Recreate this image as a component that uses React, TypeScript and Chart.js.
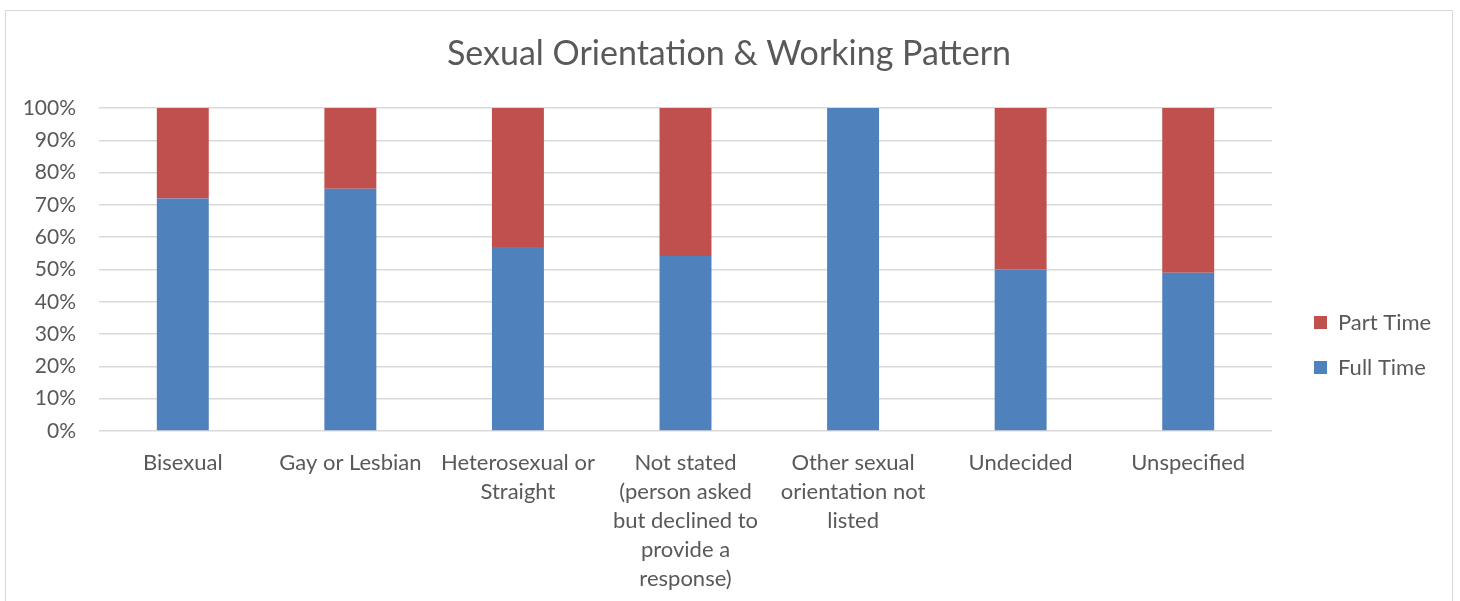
import { useEffect, useRef } from "react";
import { Chart, registerables } from "chart.js";

Chart.register(...registerables);

const TITLE = "Sexual Orientation & Working Pattern";

// Category labels, pre-wrapped into lines
const categories: string[][] = [
  ["Bisexual"],
  ["Gay or Lesbian"],
  ["Heterosexual or", "Straight"],
  ["Not stated", "(person asked", "but declined to", "provide a", "response)"],
  ["Other sexual", "orientation not", "listed"],
  ["Undecided"],
  ["Unspecified"],
];

// Share of staff (%) in each working pattern
const fullTime = [72, 75, 57, 54.2, 100, 50, 49];
const partTime = [28, 25, 43, 45.8, 0, 50, 51];

const FULL_COLOR = "#4f81bd";
const PART_COLOR = "#c0504d";
const TEXT_COLOR = "#595959";
const GRID_COLOR = "#d9d9d9";
const FONT = "Lato";

const CANVAS_W = 1446;
const CANVAS_H = 668;
const PLOT_LEFT = 93;
const PLOT_BOTTOM = 420;
const LEGEND_W = 180;
const LEGEND_SHIFT = 19;

// Keeps the legend column at a fixed width and nudges its items away from the plot
const legendPlacement = {
  id: "legendPlacement",
  beforeLayout(chart: any) {
    const lg = chart.legend;
    if (lg && !lg.__fixedWidth) {
      const fit = lg.fit.bind(lg);
      lg.fit = () => {
        fit();
        lg.width = LEGEND_W;
      };
      lg.__fixedWidth = true;
    }
  },
  afterLayout(chart: any) {
    const lg = chart.legend;
    if (lg) lg.left += LEGEND_SHIFT;
  },
};

export default function App() {
  const canvasRef = useRef<HTMLCanvasElement | null>(null);

  useEffect(() => {
    if (!canvasRef.current) return;
    const chart = new Chart(canvasRef.current, {
      type: "bar",
      data: {
        labels: categories,
        datasets: [
          {
            label: "Full Time",
            data: fullTime,
            backgroundColor: FULL_COLOR,
            borderWidth: 0,
          },
          {
            label: "Part Time",
            data: partTime,
            backgroundColor: PART_COLOR,
            borderWidth: 0,
          },
        ],
      },
      options: {
        responsive: false,
        animation: false,
        layout: { padding: 0 },
        datasets: {
          bar: { categoryPercentage: 1, barPercentage: 0.31 },
        },
        plugins: {
          title: {
            display: true,
            text: TITLE,
            color: TEXT_COLOR,
            font: { family: FONT, size: 34, weight: "normal", lineHeight: 1.2 },
            padding: { top: 23, bottom: 33.2 },
          },
          legend: {
            display: true,
            position: "right",
            reverse: true,
            labels: {
              color: TEXT_COLOR,
              font: { family: FONT, size: 22 },
              boxWidth: 13,
              boxHeight: 13,
              padding: 23,
            },
          },
          tooltip: { enabled: false },
        },
        scales: {
          x: {
            stacked: true,
            grid: { display: false, drawTicks: false },
            border: { display: false },
            ticks: {
              color: TEXT_COLOR,
              font: { family: FONT, size: 22, lineHeight: 29 / 22 },
              padding: 17,
              maxRotation: 0,
              autoSkip: false,
            },
            afterFit(scale: any) {
              scale.height = CANVAS_H - PLOT_BOTTOM;
            },
          },
          y: {
            stacked: true,
            min: 0,
            max: 100,
            grid: { color: GRID_COLOR, lineWidth: 1.5, drawTicks: false },
            border: { display: false },
            ticks: {
              stepSize: 10,
              color: TEXT_COLOR,
              font: { family: FONT, size: 21 },
              padding: 23,
              callback: (v: any) => `${v}%`,
            },
            afterFit(scale: any) {
              scale.width = PLOT_LEFT;
            },
          },
        },
      },
      plugins: [legendPlacement],
    });
    return () => chart.destroy();
  }, []);

  return (
    <div
      style={{
        position: "fixed",
        left: 0,
        top: 0,
        width: 1460,
        height: 601,
        overflow: "hidden",
        background: "#ffffff",
      }}
    >
      <div
        style={{
          position: "absolute",
          left: 5,
          top: 10,
          width: CANVAS_W + 2,
          height: CANVAS_H + 2,
          border: `1px solid ${GRID_COLOR}`,
          boxSizing: "border-box",
          background: "#ffffff",
        }}
      >
        <canvas ref={canvasRef} width={CANVAS_W} height={CANVAS_H} style={{ display: "block" }} />
      </div>
    </div>
  );
}
